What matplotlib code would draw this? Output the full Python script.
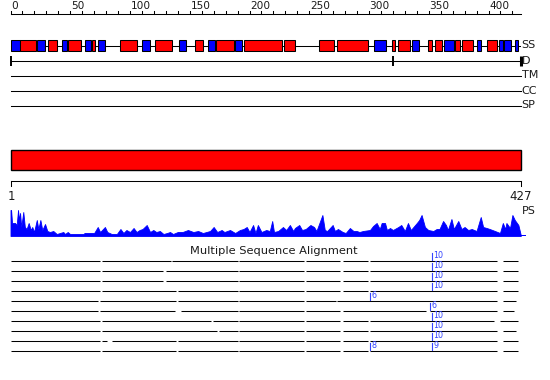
import matplotlib
matplotlib.use("Agg")
import matplotlib.pyplot as plt
from matplotlib.patches import Rectangle
import numpy as np

# ---------------- data ----------------
seq_len = 427
ruler_major = [0, 50, 100, 150, 200, 250, 300, 350, 400]
ruler_minor_step = 10

strand_start = [1, 23, 44, 63, 74, 111, 142, 166, 189, 305, 337, 364, 391, 410, 414, 423]
strand_end   = [8, 29, 47, 67, 79, 117, 147, 171, 194, 314, 342, 371, 394, 412, 419, 425]
helix_start  = [9, 32, 49, 69, 93, 122, 155, 173, 196, 230, 259, 274, 320, 325, 350, 356, 373, 379, 400]
helix_end    = [21, 39, 59, 71, 106, 135, 161, 187, 227, 238, 271, 299, 322, 334, 353, 361, 376, 387, 407]

domain_bounds = [0, 320, 427]
track_labels = ["SS", "D", "TM", "CC", "SP"]

domain_start = 1
domain_end = 427

ps_pos = [0, 0.5, 1.3, 3.8, 5.2, 6.3, 7.1, 8, 9, 10.7, 12, 13.5, 15.2, 17, 18.2, 19.7, 22, 23.3, 25,
          26.6, 28.9, 30.8, 33, 35.8, 38.7, 41.4, 44.2, 45.6, 47.9, 49.8, 55, 61, 62, 65, 70, 73, 75,
          79, 81, 84.7, 89, 92, 94.5, 97, 100, 103, 105.5, 108, 110.5, 114, 116.8, 119.5, 122, 125,
          128, 131, 133.5, 136, 140, 144, 148.5, 153, 157, 161, 167, 170, 173, 176.7, 179, 183.7, 188,
          192, 195, 197.7, 200, 203, 205, 207, 210, 214, 217, 219, 220.5, 224, 228, 230.7, 233.8,
          236.6, 238, 241.6, 244, 247, 251, 254, 256, 261, 263, 265, 269.6, 271.5, 274, 278, 280.5,
          284, 287, 289.7, 292, 295, 300.8, 303.4, 306.4, 309, 310.6, 313.4, 315, 317.6, 320, 324.5,
          327, 330, 332.6, 335, 340, 342, 344, 346.8, 349.6, 353.8, 356.6, 359, 362, 364.4, 366, 369,
          371, 374.7, 377.4, 380, 383, 386, 390, 393.5, 395.5, 398.5, 401, 405.4, 409.6, 412, 414,
          415, 418, 420, 422, 425, 427]
ps_val = [25, 25, 12, 12, 10, 25, 15, 22, 8, 23, 8, 6, 12, 5, 8, 3, 15, 6, 15,
          5, 11, 4, 3, 4, 1, 2, 3, 1, 3, 1, 1, 1, 2, 2, 2, 8, 3,
          8, 3, 1, 1, 6, 2, 5, 3, 7, 3, 5, 6, 10, 3, 5, 3, 4,
          1, 2, 3, 1, 3, 3, 5, 3, 4, 2, 4, 8, 3, 5, 3, 5, 2,
          5, 6, 8, 3, 10, 2, 10, 3, 5, 4, 14, 3, 4, 8, 5, 10,
          4, 7, 10, 5, 6, 10, 8, 4, 20, 5, 4, 10, 4, 6, 3, 2,
          7, 4, 4, 3, 4, 5, 9, 12, 6, 12, 12, 5, 7, 5, 8,
          10, 4, 12, 5, 12, 15, 20, 8, 5, 4, 6, 6, 14, 10, 5, 16,
          6, 14, 6, 8, 5, 6, 4, 18, 8, 7, 6, 4, 2, 12, 6,
          12, 7, 20, 15, 10, 0]

msa_title = "Multiple Sequence Alignment"
msa_rows = [
    [(0, 75), (76.5, 134), (135, 190), (191.5, 245.5), (247, 276), (278, 299.5), (301, 407), (412, 425)],
    [(0, 75), (76.5, 128), (130, 190), (191.5, 245.5), (247, 276), (278, 299.5), (301, 407), (412, 425)],
    [(0, 75), (76.5, 128), (130, 190), (191.5, 245.5), (247, 276), (278, 299.5), (301, 407), (412, 425)],
    [(0, 75), (76.5, 138.5), (140, 190), (191.5, 245.5), (247, 276), (278, 299.5), (301, 407), (412, 425)],
    [(0, 73.5), (75, 138.5), (140, 190), (191.5, 245.5), (247, 272), (273.5, 407), (412, 423)],
    [(0, 73.5), (75, 138), (143, 190), (191.5, 245.5), (247, 276), (278, 348), (351, 407), (412, 421)],
    [(0, 75), (76.5, 168), (169.5, 190), (191.5, 245.5), (247, 276), (278, 299.5), (301, 405), (410, 425)],
    [(0, 75), (76.5, 173), (174.5, 190), (191.5, 245.5), (247, 276), (278, 299.5), (301, 407), (412, 423)],
    [(0, 75), (76.5, 81), (85, 138.5), (140, 190), (191.5, 245.5), (247, 276), (278, 299.5), (301, 407), (412, 425)],
    [(0, 75), (76.5, 138.5), (140, 190), (191.5, 245.5), (247, 276), (278, 299.5), (301, 407), (412, 425)],
]
msa_marks = [
    [(352.7, "10")], [(352.7, "10")], [(352.7, "10")], [(352.7, "10")],
    [(300.8, "6")], [(351, "6")], [(352.7, "10")], [(352.7, "10")], [(352.7, "10")],
    [(300.8, "8"), (352.7, "9")],
]

# ---------------- layout ----------------
W, H = 550, 380
x0_px, px_per_res = 10.5, 1.195
fig = plt.figure(figsize=(W / 100, H / 100), dpi=100)
ax = fig.add_axes([0, 0, 1, 1])
ax.set_xlim(-x0_px / px_per_res, (W - x0_px) / px_per_res)
ax.set_ylim(H, 0)
ax.axis("off")
pr = 1 / px_per_res  # one pixel in residue units
lw1 = 0.75
txt = "#1a1a1a"

# top ruler
y_r = 14
ax.plot([0, seq_len], [y_r, y_r], color="black", lw=lw1)
for t in range(0, seq_len, ruler_minor_step):
    ax.plot([t, t], [y_r, y_r - 3], color="black", lw=lw1)
for t in ruler_major:
    ax.text(t + 0.5, y_r - 3, str(t), fontsize=7.6, color=txt, ha="left", va="bottom")

# SS track
y_ss = 45.5
ax.plot([0, seq_len - 1], [y_ss, y_ss], color="black", lw=lw1, zorder=1)
for s, e in zip(strand_start, strand_end):
    ax.add_patch(Rectangle((s - 1, y_ss - 5.5), e - s + 1, 11, facecolor="#0000ff",
                           edgecolor="black", lw=lw1, zorder=2))
for s, e in zip(helix_start, helix_end):
    ax.add_patch(Rectangle((s - 1, y_ss - 5.5), e - s + 1, 11, facecolor="#ff0000",
                           edgecolor="black", lw=lw1, zorder=2))

# D track
y_d = 61
ax.plot([0, seq_len], [y_d, y_d], color="black", lw=lw1)
for b in domain_bounds:
    w = 2.2 if b == seq_len else 1.4
    ax.plot([b, b], [y_d - 5, y_d + 5], color="black", lw=w, solid_capstyle="butt")

# TM, CC, SP
for y in (75.5, 90.5, 105.5):
    ax.plot([0, seq_len], [y, y], color="black", lw=lw1)

for lab, y in zip(track_labels, (45.5, 61, 75.5, 90.5, 105.5)):
    ax.text(seq_len + 0.8, y, lab, fontsize=8, color=txt, ha="left", va="center")

# domain bar
ax.add_patch(Rectangle((0, 150), seq_len, 20, facecolor="#ff0000", edgecolor="black", lw=1))

# domain ruler
y_r2 = 181
ax.plot([0, seq_len], [y_r2, y_r2], color="black", lw=lw1)
for b in (0, seq_len):
    ax.plot([b, b], [y_r2, y_r2 + 5], color="black", lw=lw1)
ax.text(domain_start - 0.2, y_r2 + 8.5, str(domain_start), fontsize=8.5, color=txt, ha="center", va="top")
ax.text(domain_end + 0.3, y_r2 + 8.5, str(domain_end), fontsize=8.5, color=txt, ha="center", va="top")
ax.text(seq_len + 1.0, 211, "PS", fontsize=8, color=txt, ha="left", va="center")

# PS profile
base = 236
ps_y = base - np.array(ps_val, dtype=float) - 1
ax.fill_between(ps_pos, ps_y, base, color="#0000ff", lw=0.6, edgecolor="#0000ff")
ax.fill_between([0, seq_len + 4], [base - 1.5, base - 1.5], base, color="#0000ff", lw=0)

# MSA
ax.text((W / 2 - 1 - x0_px) / px_per_res, 250.5, msa_title, fontsize=8.2, color=txt, ha="center", va="center")
for i, segs in enumerate(msa_rows):
    y = 260.5 + 10 * i
    for s, e in segs:
        ax.plot([s, e], [y, y], color="black", lw=lw1, solid_capstyle="butt")
    for p, lab in msa_marks[i]:
        ax.plot([p, p], [y - 7.5, y - 1], color="#3344ff", lw=0.8)
        ax.text(p + 1.5 * pr, y - 4.8, lab, fontsize=5.8, color="#3344ff", ha="left", va="center")

fig.savefig("out.png", dpi=100)
